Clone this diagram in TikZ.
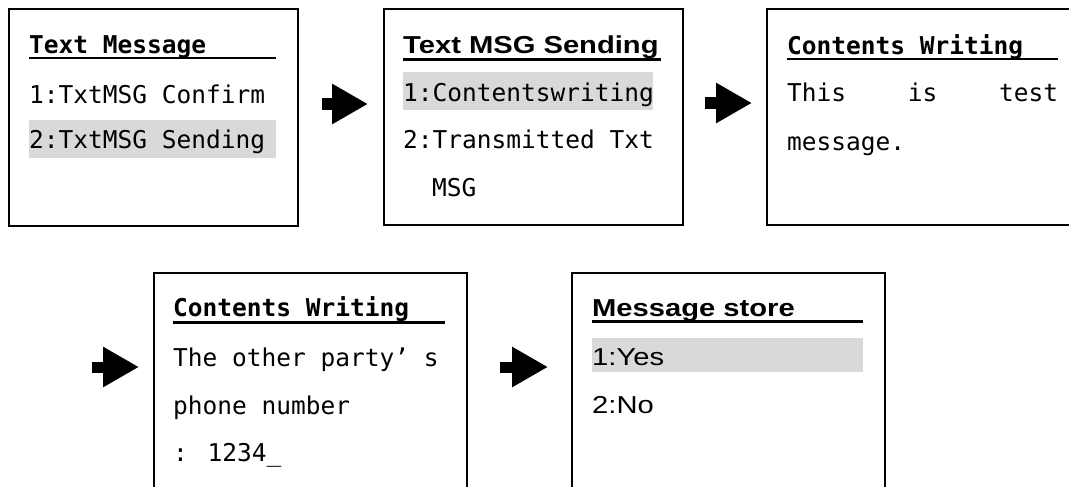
\documentclass[tikz,border=0pt]{standalone}
\usepackage{fontspec}
\usetikzlibrary{arrows.meta}
\newfontfamily\monofnt{DejaVu Sans Mono}
\newfontfamily\arialfnt[FakeStretch=1.19]{Liberation Sans}
\definecolor{hl}{HTML}{D9D9D9}
\begin{document}
\begin{tikzpicture}[x=1pt,y=-1pt,
  screen/.style={draw=black, line width=1.8pt, anchor=north west, inner sep=0pt},
  mtxt/.style={anchor=base west, inner sep=0pt, font=\monofnt\fontsize{24.5}{24.5}\selectfont},
  mtitle/.style={anchor=base west, inner sep=0pt, font=\monofnt\bfseries\fontsize{24.5}{24.5}\selectfont},
  atxt/.style={anchor=base west, inner sep=0pt, font=\arialfnt\fontsize{24.5}{24.5}\selectfont},
  atitle/.style={anchor=base west, inner sep=0pt, font=\arialfnt\bfseries\fontsize{24.5}{24.5}\selectfont},
  uline/.style={line width=2.2pt},
  hlbox/.style={fill=hl, draw=none},
  flow/.style={line width=11pt, -{Triangle[length=36pt,width=38pt]}}
]
\clip (0,0) rectangle (1069,487);
\fill[white] (0,0) rectangle (1069,487);
% highlights
\fill[hlbox] (29,120) rectangle (276,158);
\fill[hlbox] (403,72) rectangle (653,110);
\fill[hlbox] (592,338) rectangle (863,372);
% screens
\node[screen, minimum width=289pt, minimum height=217pt] (s1) at (8,8) {};
\node[screen, minimum width=299pt, minimum height=216pt] (s2) at (383,8) {};
\node[screen, minimum width=320pt, minimum height=216pt] (s3) at (766,8) {};
\node[screen, minimum width=313pt, minimum height=216pt] (s4) at (153,272) {};
\node[screen, minimum width=313pt, minimum height=216pt] (s5) at (571,272) {};
% underlines
\draw[uline] (29,58) -- (276,58);
\draw[uline, line width=2.6pt] (403,59.5) -- (661,59.5);
\draw[uline] (787,59) -- (1058,59);
\draw[uline] (173,322.5) -- (445,322.5);
\draw[uline, line width=2.8pt] (592,321.7) -- (863,321.7);
% screen 1
\node[mtitle] (t1) at (29,53.3) {Text Message};
\node[mtxt] (t1a) at (29,103) {1:TxtMSG Confirm};
\node[mtxt] (t1b) at (29,148) {2:TxtMSG Sending};
% screen 2
\node[atitle] (t2) at (403,54) {Text MSG Sending};
\node[mtxt] (t2a) at (403,101.7) {1:Contentswriting};
\node[mtxt] (t2b) at (403,148) {2:Transmitted Txt};
\node[mtxt] (t2c) at (432,196.7) {MSG};
% screen 3
\node[mtitle] (t3) at (787,55) {Contents Writing};
\node[mtxt] (t3a) at (787,101.7) {\makebox[271pt][s]{This\hfill is\hfill test}};
\node[mtxt] (t3b) at (787,150) {message.};
% screen 4
\node[mtitle] (t4) at (173,316.7) {Contents Writing};
\node[mtxt] (t4a) at (173,366.7) {The other party’ s};
\node[mtxt] (t4b) at (173,414) {phone number};
\node[mtxt] (t4c) at (173,461.7) {: 1234\_};
% screen 5
\node[atitle] (t5) at (592,316) {Message store};
\node[atxt] (t5a) at (592,365) {1:Yes};
\node[atxt] (t5b) at (592,413.3) {2:No};
% arrows
\coordinate (a1s) at (322,104); \coordinate (a1e) at (368,104);
\coordinate (a2s) at (705,103); \coordinate (a2e) at (752,103);
\coordinate (a3s) at (92,367);  \coordinate (a3e) at (139,367);
\coordinate (a4s) at (500,367); \coordinate (a4e) at (548,367);
\draw[flow] (a1s) -- (a1e);
\draw[flow] (a2s) -- (a2e);
\draw[flow] (a3s) -- (a3e);
\draw[flow] (a4s) -- (a4e);
\end{tikzpicture}
\end{document}
